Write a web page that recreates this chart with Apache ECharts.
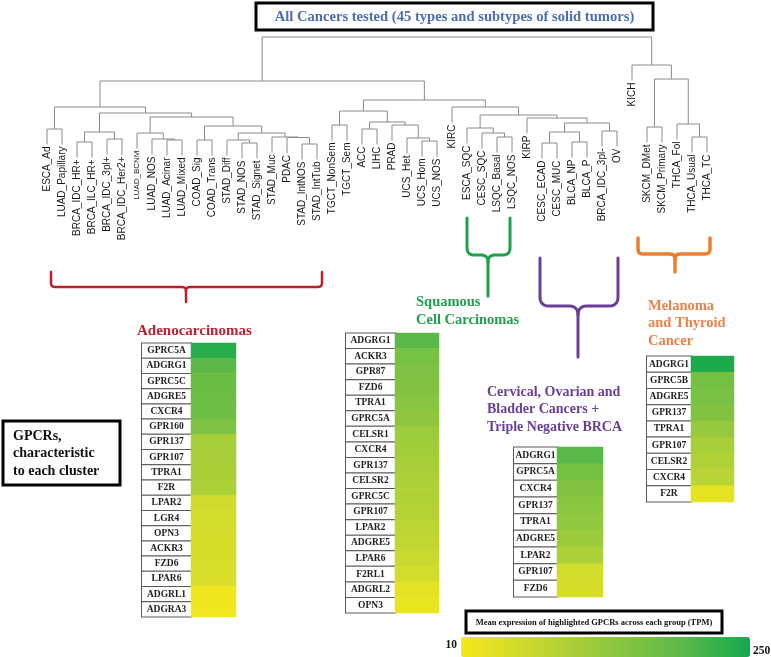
<!DOCTYPE html>
<html><head><meta charset="utf-8">
<script src="https://cdn.jsdelivr.net/npm/echarts@6/dist/echarts.min.js"></script>
<style>html,body{margin:0;padding:0;background:#fff}#c{width:771px;height:657px}</style>
</head><body><div id="c"></div>
<script>
// ---- Dendrogram data ----
const leaves = ['ESCA_Ad','LUAD_Papillary','BRCA_IDC_HR+','BRCA_ILC_HR+','BRCA_IDC_3pl+','BRCA_IDC_Her2+',
 'LUAD_BCNM','LUAD_NOS','LUAD_Acinar','LUAD_Mixed','COAD_Sig','COAD_Trans','STAD_Diff','STAD_NOS','STAD_Signet',
 'STAD_Muc','PDAC','STAD_IntNOS','STAD_IntTub','TGCT_NonSem','TGCT_Sem','ACC','LIHC','PRAD','UCS_Het','UCS_Hom',
 'UCS_NOS','KIRC','ESCA_SQC','CESC_SQC','LSQC_Basal','LSQC_NOS','KIRP','CESC_ECAD','CESC_MUC','BLCA_NP','BLCA_P',
 'BRCA_IDC_3pl-','OV','KICH','SKCM_DMet','SKCM_Primary','THCA_Fol','THCA_Usual','THCA_TC'];
// merge rows: [left child, right child, height]; numbers refer to earlier rows (1-based)
const merges = [
 ['ESCA_Ad','LUAD_Papillary',2.8],
 ['BRCA_IDC_HR+','BRCA_ILC_HR+',1.5],
 ['BRCA_IDC_3pl+','BRCA_IDC_Her2+',1.8],
 [2,3,2.5],
 ['LUAD_Acinar','LUAD_Mixed',1.7],
 ['LUAD_NOS',5,1.8],
 ['LUAD_BCNM',6,2.4],
 ['COAD_Sig','COAD_Trans',1.7],
 ['STAD_NOS','STAD_Signet',1.4],
 ['STAD_Diff',9,1.7],
 ['STAD_IntNOS','STAD_IntTub',1.3],
 ['PDAC',11,1.95],
 ['STAD_Muc',12,2.0],
 [10,13,2.4],
 [8,14,3.1],
 [7,15,4.0],
 [4,16,4.4],
 [1,17,5.0],
 ['TGCT_NonSem','TGCT_Sem',3.2],
 ['ACC','LIHC',2.8],
 ['UCS_Hom','UCS_NOS',1.6],
 ['UCS_Het',21,1.9],
 ['PRAD',22,3.2],
 [20,23,3.5],
 [19,24,4.6],
 ['LSQC_Basal','LSQC_NOS',2.0],
 ['CESC_SQC',26,2.4],
 ['ESCA_SQC',27,2.9],
 ['CESC_ECAD','CESC_MUC',1.4],
 ['BLCA_NP','BLCA_P',1.5],
 [29,30,2.5],
 ['BRCA_IDC_3pl-','OV',2.6],
 [31,32,3.4],
 ['KIRP',33,3.9],
 [28,34,4.2],
 ['KIRC',35,5.0],
 [25,36,5.7],
 [18,37,7.6],
 ['SKCM_DMet','SKCM_Primary',3.0],
 ['THCA_Usual','THCA_TC',2.0],
 ['THCA_Fol',40,3.3],
 [39,41,7.8],
 ['KICH',42,9.2],
 [38,43,12.0]
];
const smallLeafLabels = ['LUAD_BCNM'];
const leafHang = 1.55;

// ---- Heatmap data (mean TPM) ----
const adenoGenes = ['GPRC5A','ADGRG1','GPRC5C','ADGRE5','CXCR4','GPR160','GPR137','GPR107','TPRA1','F2R','LPAR2','LGR4','OPN3','ACKR3','FZD6','LPAR6','ADGRL1','ADGRA3'];
const adenoValues = [235,192,178,176,174,155,108,104,102,100,58,55,53,51,49,47,18,15];
const squamGenes = ['ADGRG1','ACKR3','GPR87','FZD6','TPRA1','GPRC5A','CELSR1','CXCR4','GPR137','CELSR2','GPRC5C','GPR107','LPAR2','ADGRE5','LPAR6','F2RL1','ADGRL2','OPN3'];
const squamValues = [195,162,155,150,142,135,118,112,106,100,95,90,82,76,66,56,32,26];
const cervGenes = ['ADGRG1','GPRC5A','CXCR4','GPR137','TPRA1','ADGRE5','LPAR2','GPR107','FZD6'];
const cervValues = [195,165,150,140,130,120,100,55,50];
const melGenes = ['ADGRG1','GPRC5B','ADGRE5','GPR137','TPRA1','GPR107','CELSR2','CXCR4','F2R'];
const melValues = [245,165,160,150,125,105,95,85,30];
const scaleMin = 10, scaleMax = 250;
const scaleLabels = ['10', '250'];
const scaleColors = ['#f5e81a','#c6d830','#92c83e','#5fba47','#16a84e'];

const SERIF = '"Liberation Serif","Times New Roman",serif';
const SANS = '"Liberation Sans",Arial,sans-serif';

// ---- tree layout (positions derived from leaf order) ----
const nodes = [];
merges.forEach((m) => {
  const kids = [m[0], m[1]].map(c => {
    if (typeof c === 'string') return { pos: leaves.indexOf(c), top: m[2] - leafHang, leaf: c };
    return { pos: nodes[c - 1].pos, top: nodes[c - 1].h, leaf: null };
  });
  nodes.push({ pos: (kids[0].pos + kids[1].pos) / 2, h: m[2], kids });
});

function renderNode(params, api) {
  const n = nodes[api.value(0)];
  const a = n.kids[0], b = n.kids[1];
  const pts = [api.coord([a.pos, a.top]), api.coord([a.pos, n.h]), api.coord([b.pos, n.h]), api.coord([b.pos, b.top])];
  const children = [{ type: 'polyline', shape: { points: pts }, style: { stroke: '#8a8a8a', lineWidth: 1, fill: null } }];
  n.kids.forEach(k => {
    if (k.leaf) {
      const p = api.coord([k.pos, k.top]);
      children.push({ type: 'text', x: p[0], y: p[1] + 2, rotation: Math.PI / 2,
        style: { text: k.leaf, align: 'right', verticalAlign: 'middle', fill: '#1a1a1a',
          fontFamily: SANS, fontSize: smallLeafLabels.includes(k.leaf) ? 8 : 10 } });
    }
  });
  return { type: 'group', children };
}

const panels = [
  { genes: adenoGenes, values: adenoValues, grid: [191, 343, 45, 274], lw: 49 },
  { genes: squamGenes, values: squamValues, grid: [395, 333, 44, 280], lw: 49 },
  { genes: cervGenes, values: cervValues, grid: [557, 447, 46, 150], lw: 43 },
  { genes: melGenes, values: melValues, grid: [691, 356, 43, 146], lw: 44 }
];

const grids = [{ left: 39.5, top: 37, width: 675, height: 120 }];
const xAxes = [{ type: 'value', gridIndex: 0, min: -0.5, max: 44.5, show: false }];
const yAxes = [{ type: 'value', gridIndex: 0, min: 0, max: 12, show: false }];
const series = [{ type: 'custom', xAxisIndex: 0, yAxisIndex: 0, clip: false, silent: true,
  renderItem: renderNode, data: nodes.map((n, i) => [i]) }];

panels.forEach((p, k) => {
  const gi = k + 1;
  const rowH = p.grid[3] / p.genes.length;
  grids.push({ left: p.grid[0], top: p.grid[1], width: p.grid[2], height: p.grid[3] });
  xAxes.push({ type: 'category', gridIndex: gi, data: ['TPM'], show: false });
  yAxes.push({ type: 'category', gridIndex: gi, data: p.genes, inverse: true,
    axisLine: { show: false }, axisTick: { show: false }, splitLine: { show: false },
    axisLabel: { interval: 0, margin: 0,
      formatter: v => '{b|' + v + '}',
      rich: { b: { width: p.lw, height: rowH - 1, lineHeight: rowH - 1, align: 'center', verticalAlign: 'middle',
        backgroundColor: '#fff', borderColor: '#5a5a5a', borderWidth: 1,
        fontFamily: SERIF, fontWeight: 'bold', fontSize: 9.5, color: '#222' } } } });
  series.push({ type: 'heatmap', xAxisIndex: gi, yAxisIndex: gi, silent: true,
    data: p.genes.map((g, j) => [0, j, p.values[j]]) });
});

function txt(x, y, text, size, color, align) {
  return { type: 'text', x, y, silent: true, style: { text, fontFamily: SERIF, fontWeight: 'bold', fontSize: size,
    fill: color, align: align || 'left', verticalAlign: 'middle' } };
}
// curly-brace shaped bracket: arms at xl/xr from yTop to yBar, stem at xc to yStem
function bracket(xl, xr, xc, yTop, yBar, yStem, r, color, w) {
  const q = (p0, c, p1) => { const o = []; for (let t = 0; t <= 1.001; t += 0.2) { o.push([(1-t)*(1-t)*p0[0]+2*(1-t)*t*c[0]+t*t*p1[0], (1-t)*(1-t)*p0[1]+2*(1-t)*t*c[1]+t*t*p1[1]]); } return o; };
  const left = [[xl, yTop]].concat(q([xl, yBar - r], [xl, yBar], [xl + r, yBar]), q([xc - r, yBar], [xc, yBar], [xc, yBar + r]), [[xc, yStem]]);
  const right = [[xr, yTop]].concat(q([xr, yBar - r], [xr, yBar], [xr - r, yBar]), q([xc + r, yBar], [xc, yBar], [xc, yBar + r]));
  const st = { stroke: color, lineWidth: w, fill: null, lineCap: 'round', lineJoin: 'round' };
  return [{ type: 'polyline', silent: true, shape: { points: left }, style: st },
          { type: 'polyline', silent: true, shape: { points: right }, style: st }];
}
const graphics = [].concat(
  [{ type: 'rect', shape: { x: 256, y: 3, width: 397, height: 27 }, style: { fill: '#fff', stroke: '#000', lineWidth: 3 } },
   txt(454.5, 17, 'All Cancers tested (45 types and subtypes of solid tumors)', 14.6, '#4a6db3', 'center')],
  bracket(51, 322, 186, 272, 287, 302, 4, '#bd1f2e', 2.5),
  bracket(467, 510, 488, 218, 255, 296, 7, '#1e9f4a', 3),
  bracket(540, 618, 578, 258, 306, 357, 9, '#6a3d9a', 3),
  bracket(638, 710, 675, 238, 254, 272, 5, '#ed7d31', 3.5),
  [txt(137, 331, 'Adenocarcinomas', 15, '#bd1f2e'),
  txt(416, 302, 'Squamous', 14.5, '#22a04f'),
  txt(416, 320, 'Cell Carcinomas', 14.5, '#22a04f'),
  txt(487, 392, 'Cervical, Ovarian and', 14, '#6b3e99'),
  txt(487, 409.5, 'Bladder Cancers +', 14, '#6b3e99'),
  txt(487, 427, 'Triple Negative BRCA', 14, '#6b3e99'),
  txt(648, 306, 'Melanoma', 14.5, '#ea8249'),
  txt(648, 323.5, 'and Thyroid', 14.5, '#ea8249'),
  txt(648, 341, 'Cancer', 14.5, '#ea8249'),
  { type: 'rect', shape: { x: 3, y: 421, width: 117, height: 64 }, style: { fill: '#fff', stroke: '#000', lineWidth: 3 } },
  txt(13, 436, 'GPCRs,', 14, '#111'),
  txt(13, 453.5, 'characteristic', 14, '#111'),
  txt(13, 471, 'to each cluster', 14, '#111'),
  { type: 'rect', shape: { x: 466, y: 611, width: 256, height: 22 }, style: { fill: '#fff', stroke: '#000', lineWidth: 3 } },
  txt(594, 622.5, 'Mean expression of highlighted GPCRs across each group (TPM)', 8.5, '#111', 'center'),
  txt(457, 645, scaleLabels[0], 11.5, '#111', 'right'),
  txt(753, 651, scaleLabels[1], 11.5, '#111', 'left')]
);

const chart = echarts.init(document.getElementById('c'), null, { renderer: 'canvas' });
chart.setOption({
  backgroundColor: '#fff',
  animation: false,
  grid: grids, xAxis: xAxes, yAxis: yAxes, series,
  visualMap: { type: 'continuous', min: scaleMin, max: scaleMax, seriesIndex: [1, 2, 3, 4],
    orient: 'horizontal', left: 461, top: 637, padding: 0, itemWidth: 20, itemHeight: 289,
    text: null, showLabel: false, calculable: false, hoverLink: false,
    inRange: { color: scaleColors } },
  graphic: graphics
});
</script></body></html>
